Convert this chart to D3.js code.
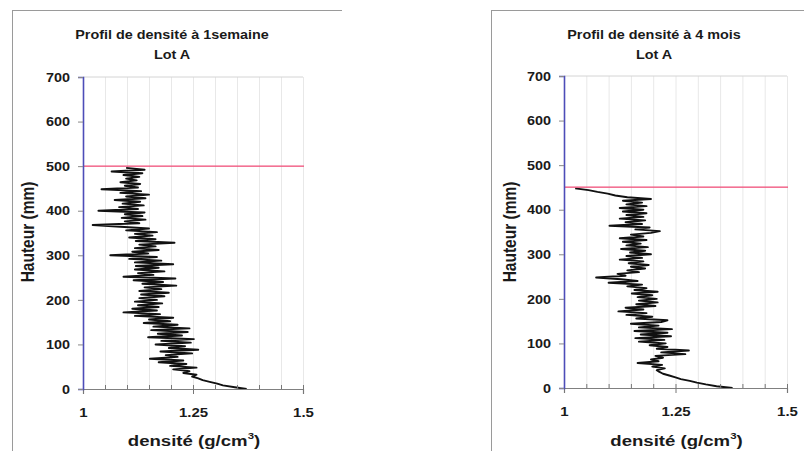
<!DOCTYPE html>
<html><head><meta charset="utf-8">
<script src="https://cdn.jsdelivr.net/npm/d3@7"></script>
<style>html,body{margin:0;padding:0;background:#fff;}svg{display:block;}</style>
</head><body>
<svg id="chart" width="804" height="451"></svg>
<script>
// ---- data ----
const titlesA = ["Profil de densité à 1semaine", "Lot A"];
const titlesB = ["Profil de densité à 4 mois", "Lot A"];
const yTicks = [0, 100, 200, 300, 400, 500, 600, 700];
const xTicks = [1, 1.25, 1.5];
const xGrid = [1.05, 1.1, 1.15, 1.2, 1.25, 1.3, 1.35, 1.4, 1.45, 1.5];
const limitA = 500;   // red line, 1 week
const limitB = 450;   // red line, 4 months

// sampling heights (mm) of the profiles
const heightsA = d3.range(0, 497, 4);
const densityA = [
  1.372,1.345,1.318,1.305,1.288,1.272,1.262,1.248,1.258,1.228,
  1.242,1.205,1.258,1.198,1.235,1.172,1.228,1.152,1.215,1.188,
  1.248,1.176,1.262,1.195,1.232,1.165,1.245,1.178,1.252,1.148,
  1.225,1.170,1.238,1.155,1.242,1.160,1.215,1.138,1.198,1.150,
  1.205,1.118,1.175,1.092,1.168,1.112,1.172,1.125,1.180,1.118,
  1.168,1.128,1.185,1.132,1.195,1.128,1.178,1.140,1.212,1.135,
  1.182,1.115,1.210,1.092,1.160,1.125,1.185,1.118,1.172,1.120,
  1.205,1.118,1.178,1.105,1.168,1.062,1.148,1.112,1.172,1.118,
  1.165,1.128,1.208,1.120,1.165,1.105,1.158,1.118,1.168,1.098,
  1.150,1.085,1.022,1.128,1.095,1.142,1.088,1.135,1.095,1.140,
  1.035,1.125,1.082,1.138,1.090,1.130,1.072,1.142,1.098,1.150,
  1.085,1.132,1.042,1.125,1.095,1.130,1.085,1.122,1.098,1.128,
  1.092,1.135,1.065,1.140,1.098
];
const heightsB = d3.range(0, 449, 4);
const densityB = [
  1.378,1.342,1.318,1.298,1.282,1.262,1.250,1.236,1.222,1.214,
  1.208,1.226,1.198,1.220,1.165,1.212,1.195,1.222,1.205,1.272,
  1.218,1.280,1.208,1.232,1.192,1.228,1.168,1.225,1.160,1.240,
  1.172,1.232,1.158,1.242,1.168,1.212,1.150,1.218,1.232,1.162,
  1.198,1.140,1.185,1.122,1.178,1.138,1.205,1.162,1.210,1.168,
  1.208,1.165,1.198,1.152,1.210,1.158,1.185,1.142,1.175,1.100,
  1.165,1.128,1.072,1.138,1.120,1.168,1.142,1.182,1.150,1.190,
  1.145,1.178,1.125,1.175,1.140,1.195,1.148,1.182,1.128,1.188,
  1.140,1.172,1.132,1.185,1.125,1.178,1.150,1.195,1.215,1.160,
  1.192,1.102,1.175,1.138,1.182,1.125,1.178,1.140,1.185,1.132,
  1.178,1.125,1.185,1.140,1.175,1.132,1.195,1.142,1.115,1.098,
  1.075,1.055,1.025
];

// ---- layout ----
const FONT = "'Liberation Sans', Arial, Helvetica, sans-serif";
const SX = 1.2;        // horizontal stretch seen in the scanned picture
const TXT = "#1a1a1a";
const RED = "#f0507a";
const svg = d3.select("#chart");

const panels = [
  { titles: titlesA, heights: heightsA, dens: densityA, limit: limitA,
    frameX: 12, frameY: 10, left: 83, right: 303, top: 77, bottom: 389, ytitleX: 28, titleX: 172 },
  { titles: titlesB, heights: heightsB, dens: densityB, limit: limitB,
    frameX: 491, frameY: 10, left: 564, right: 787, top: 76, bottom: 388, ytitleX: 510, titleX: 654 }
];

function label(g, x, y, s, size, anchor, rot) {
  return g.append("text")
    .attr("transform", `translate(${x},${y}) scale(${SX},1)` + (rot ? ` rotate(${rot})` : ""))
    .attr("text-anchor", anchor || "middle")
    .attr("font-family", FONT).attr("font-weight", "bold")
    .attr("font-size", size).attr("fill", TXT)
    .text(s);
}

panels.forEach(p => {
  const g = svg.append("g");
  // chart frame (scan: left and top edges)
  g.append("line").attr("x1", p.frameX + 0.5).attr("x2", p.frameX + 0.5).attr("y1", p.frameY).attr("y2", 451)
    .attr("stroke", "#9a9a9a").attr("stroke-width", 1);
  g.append("line").attr("x1", p.frameX).attr("x2", p.frameX + 330).attr("y1", p.frameY + 0.5).attr("y2", p.frameY + 0.5)
    .attr("stroke", "#9a9a9a").attr("stroke-width", 1);

  const x = d3.scaleLinear().domain([1, 1.5]).range([p.left, p.right]);
  const y = d3.scaleLinear().domain([0, 700]).range([p.bottom, p.top]);

  // vertical grid
  const grid = g.append("g").attr("transform", `translate(0,${p.bottom})`)
    .call(d3.axisBottom(x).tickValues(xGrid).tickSize(-(p.bottom - p.top)).tickFormat(""));
  grid.select(".domain").remove();
  grid.selectAll("line").attr("stroke", "#e8e8e8").attr("stroke-width", 1);

  // plot border top
  g.append("line").attr("x1", p.left).attr("x2", p.right).attr("y1", p.top).attr("y2", p.top)
    .attr("stroke", "#d4d4d4");

  // profile
  const line = d3.line().x((d, i) => x(p.dens[i])).y(d => y(d));
  g.append("path").datum(p.heights).attr("d", line)
    .attr("fill", "none").attr("stroke", "#111").attr("stroke-width", 1.9)
    .attr("stroke-linejoin", "round");

  // red limit line
  g.append("rect").attr("x", p.left).attr("width", p.right + 1 - p.left)
    .attr("y", Math.round(y(p.limit)) - 0.5).attr("height", 1.3)
    .attr("fill", RED);

  // minor ticks on x axis
  const minor = g.append("g").attr("transform", `translate(0,${p.bottom})`)
    .call(d3.axisBottom(x).tickValues(xGrid).tickSize(-4).tickFormat(""));
  minor.select(".domain").remove();
  minor.selectAll("line").attr("stroke", "#777");

  // x axis
  const xa = g.append("g").attr("transform", `translate(0,${p.bottom})`)
    .call(d3.axisBottom(x).tickValues(xTicks).tickSize(5).tickFormat(d3.format("")));
  xa.select(".domain").attr("stroke", "#808080").attr("stroke-width", 1.2);
  xa.selectAll("line").attr("stroke", "#777");
  xa.selectAll("text").attr("y", 0).attr("dy", null)
    .attr("transform", `translate(0,28) scale(${SX},1)`)
    .attr("font-family", FONT).attr("font-weight", "bold").attr("font-size", 12.5).attr("fill", TXT);

  // y axis
  const ya = g.append("g").attr("transform", `translate(${p.left},0)`)
    .call(d3.axisLeft(y).tickValues(yTicks).tickSize(5));
  ya.select(".domain").attr("stroke", "#4d4db8").attr("stroke-width", 1.6);
  ya.selectAll("line").attr("stroke", "#888");
  ya.selectAll("text").attr("x", 0).attr("dy", "0.35em")
    .attr("transform", `translate(-13,0) scale(${SX},1)`)
    .attr("font-family", FONT).attr("font-weight", "bold").attr("font-size", 12).attr("fill", TXT);

  // titles
  label(g, p.titleX, 39, p.titles[0], 12, "middle");
  label(g, p.titleX, 59, p.titles[1], 12, "middle");

  // axis titles
  label(g, p.ytitleX + 6, 232, "Hauteur (mm)", 15.5, "middle", -90);
  const xt = label(g, (p.left + p.right) / 2 + 1, 446, "densité (g/cm", 15.5, "middle");
  xt.append("tspan").attr("font-size", 9.5).attr("dy", -7).text("3");
  xt.append("tspan").attr("dy", 7).text(")");
});
</script>
</body></html>
